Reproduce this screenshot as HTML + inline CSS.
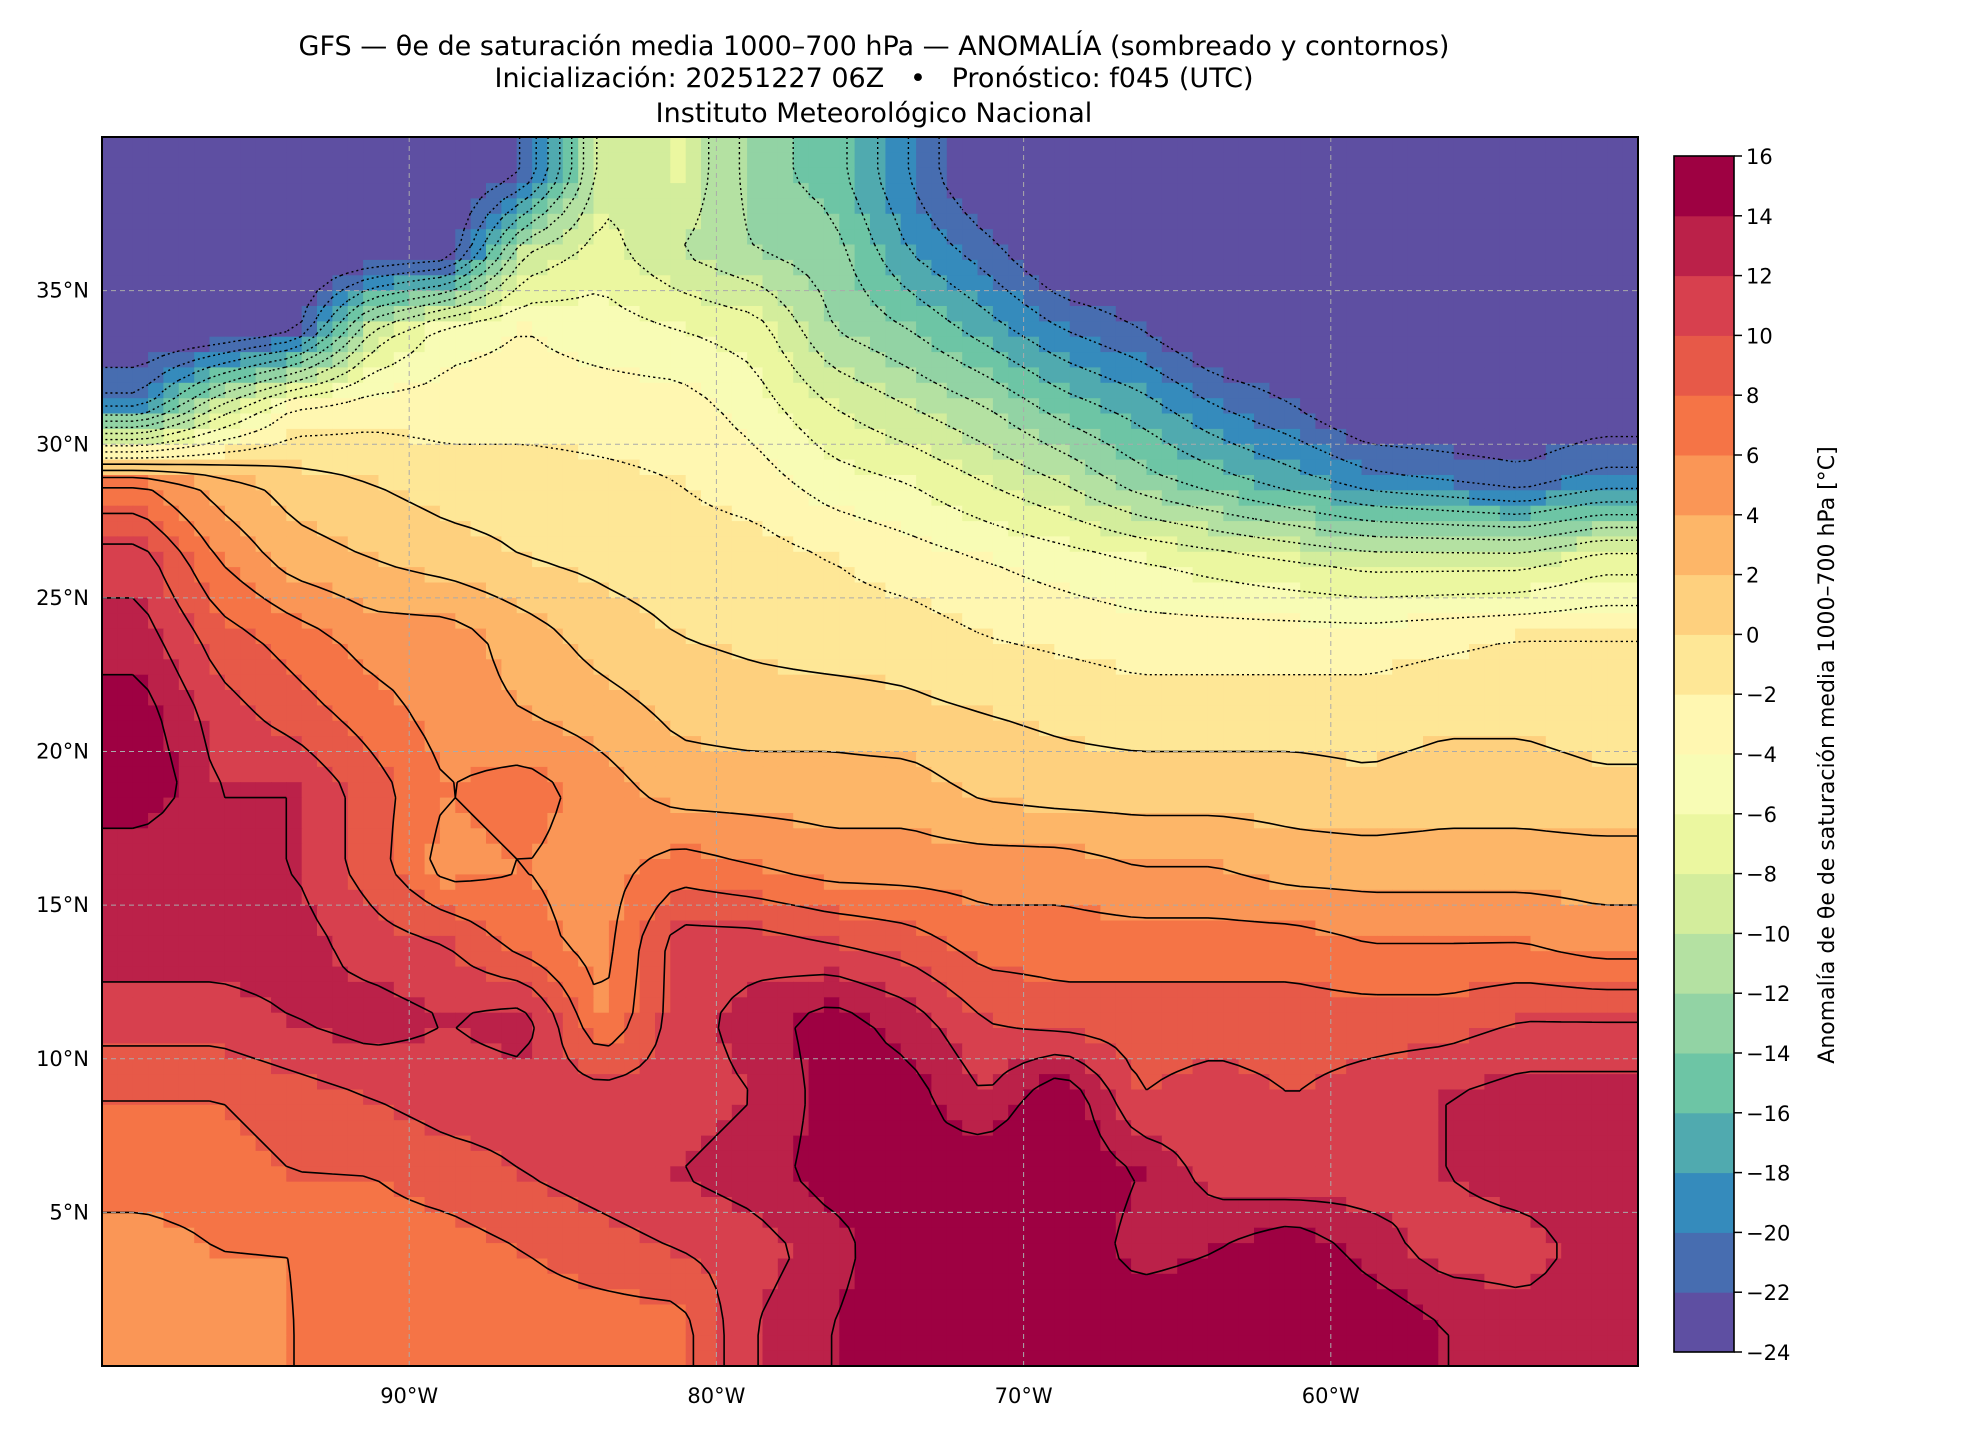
<!DOCTYPE html>
<html><head><meta charset="utf-8"><style>
body{margin:0;background:#fff;}
svg text{font-family:"DejaVu Sans","Liberation Sans",sans-serif;}
</style></head><body>
<svg id="fig" width="1980" height="1440" viewBox="0 0 1980 1440" xmlns="http://www.w3.org/2000/svg">
<rect width="1980" height="1440" fill="#fff"/>
<g font-size="27" text-anchor="middle" fill="#000">
<text x="874" y="55">GFS — θe de saturación media 1000–700 hPa — ANOMALÍA (sombreado y contornos)</text>
<text x="874" y="87" xml:space="preserve">Inicialización: 20251227 06Z   •   Pronóstico: f045 (UTC)</text>
<text x="874" y="122">Instituto Meteorológico Nacional</text>
</g>
<g id="field"></g>
<g id="contours"></g>
<g id="grid"></g>
<rect x="102" y="137" width="1536" height="1229" fill="none" stroke="#000" stroke-width="2"/>
<g id="axes"></g>
<g id="cbar"></g>
<text transform="translate(1834,755) rotate(-90)" text-anchor="middle" font-size="22">Anomalía de θe de saturación media 1000–700 hPa [°C]</text>
</svg>
<script>
const lonCenters=[-98.75,-96.25,-93.75,-91.25,-88.75,-86.25,-83.75,-81.25,-78.75,-76.25,-73.75,-71.25,-68.75,-66.25,-63.75,-61.25,-58.75,-56.25,-53.75,-51.25];
const latCenters=[38.75,36.25,33.75,31.25,28.75,26.25,23.75,21.25,18.75,16.25,13.75,11.25,8.75,6.25,3.75,1.25];
const row39=[-25,-25,-25,-25,-25,-22,-9,-8,-13,-15,-20,-25,-25,-25,-25,-25,-25,-25,-25,-25];
const row36=[-25,-25,-25,-25,-24,-10,-7,-10,-12,-13,-18,-21,-25,-25,-25,-25,-25,-25,-25,-25];
const row34=[-25,-25,-23,-10,-5,-4,-5,-6,-7,-12,-14,-17,-20,-22,-25,-25,-25,-25,-25,-25];
const row31=[-19,-10,-4,-3,-3,-3,-3,-3,-5,-8,-10,-12,-15,-17,-20,-22,-25,-25,-25,-24];
const row29=[6,3,1,0,-1,-1,-1.5,-2,-3,-5,-6,-8,-10,-13,-15,-17,-19,-20,-21,-19];
const row26=[11,6,3,2,1,0,-0.5,-1,-1,-2,-3,-4,-5,-6,-7,-8,-9,-9,-9,-7];
const row24=[13,9,7,5,5,3,1,0,-0.5,-1,-1,-2,-2.5,-3,-3,-3,-3,-2.5,-2,-2];
const row21=[15,11,9,7,5,4,3,1.5,1,1,0.5,0,-0.5,-1,-1,-1,-1,-0.5,-0.5,-1];
const row19=[16,12,12,9,6,7,5,3,3,3,3,1.5,1,1,1,1,0.5,1,1,0.5];
const row16=[12,12,12,9,5,6,5,7,6,5,5,5,5,4,4,3,3,3,3,3];
const row14=[13,13,13,11,10,7,5,11,11,10,9,7,7,7,7,7,6,6,6,5];
const row11=[11,11,12,13,12,13,6,11,13,15,13,10,9,9,9,9,9,9,10,10];
const row9=[8,8,9,10,11,11,11,11,12,15,15,12,16,10,11,10,11,12,13,13];
const row6=[7,7,8,8,9,10,11,12,13,15,14,16,16,14,11,10,11,12,13,13];
const row4=[5,6,6,7,7,8,9,10,11,13,16,16,16,13,14,16,13,11,11,13];
const row1=[5,5,6,7,7,7,7,7,12,14,16,16,16,16,16,16,16,14,13,13];
const fieldRows=[row39,row36,row34,row31,row29,row26,row24,row21,row19,row16,row14,row11,row9,row6,row4,row1];
const levels=[-24,-22,-20,-18,-16,-14,-12,-10,-8,-6,-4,-2,0,2,4,6,8,10,12,14,16];
const xTicks=[-90,-80,-70,-60];
const yTicks=[5,10,15,20,25,30,35];

const NS='http://www.w3.org/2000/svg';
const X=lon=>102+(lon+100)*1536/50;
const Y=lat=>137+(40-lat)*1229/40;
const spec=['#9e0142','#d53e4f','#f46d43','#fdae61','#fee08b','#ffffbf','#e6f598','#abdda4','#66c2a5','#3288bd','#5e4fa2'].reverse();
function hx(h){return [1,3,5].map(i=>parseInt(h.substr(i,2),16));}
function cmap(f){const p=f*10,i=Math.min(9,Math.floor(p)),t=p-i;const a=hx(spec[i]),b=hx(spec[i+1]);return 'rgb('+a.map((v,k)=>Math.round(v+(b[k]-v)*t)).join(',')+')';}
const bandColors=[];for(let i=0;i<20;i++)bandColors.push(cmap(i/19));
function band(v){let i=Math.floor((v-levels[0])/2);return Math.max(0,Math.min(19,i));}
function mk(tag,attrs,parent){const e=document.createElementNS(NS,tag);for(const k in attrs)e.setAttribute(k,attrs[k]);parent.appendChild(e);return e;}
function sample(lon,lat){
  const fx=(lon-lonCenters[0])/(lonCenters[1]-lonCenters[0]);
  const fy=(lat-latCenters[0])/(latCenters[1]-latCenters[0]);
  const cx=Math.max(0,Math.min(lonCenters.length-1.0001,fx)),cy=Math.max(0,Math.min(latCenters.length-1.0001,fy));
  const i=Math.floor(cx),j=Math.floor(cy),tx=cx-i,ty=cy-j;
  const r0=fieldRows[j],r1=fieldRows[j+1];
  return (r0[i]*(1-tx)+r0[i+1]*tx)*(1-ty)+(r1[i]*(1-tx)+r1[i+1]*tx)*ty;
}
const field=document.getElementById('field');
const step=0.5;
for(let lat=40;lat>0;lat-=step){for(let lon=-100;lon<-50;lon+=step){
  const v=sample(lon+step/2,lat-step/2);
  const x0=X(lon),x1=X(lon+step),y0=Y(lat),y1=Y(lat-step);
  const r=mk('rect',{x:x0.toFixed(1),y:y0.toFixed(1),width:(x1-x0+0.6).toFixed(1),height:(y1-y0+0.6).toFixed(1),fill:bandColors[band(v)]},field);
  
  
}}
const cont=document.getElementById('contours');
const cs=0.5, nx=Math.round(50/cs), ny=Math.round(40/cs);
const G=[];for(let j=0;j<=ny;j++){const r=[];for(let i=0;i<=nx;i++)r.push(sample(-100+i*cs,40-j*cs));G.push(r);}
levels.slice(1,-1).forEach(L=>{
  let d='';
  const P=(i,j)=>[X(-100+i*cs),Y(40-j*cs)];
  for(let j=0;j<ny;j++)for(let i=0;i<nx;i++){
    const a=G[j][i],b=G[j][i+1],c=G[j+1][i+1],e=G[j+1][i];
    const pts=[];
    const edge=(v1,v2,p1,p2)=>{if((v1<L)!==(v2<L)){const t=(L-v1)/(v2-v1);pts.push([p1[0]+(p2[0]-p1[0])*t,p1[1]+(p2[1]-p1[1])*t]);}};
    edge(a,b,P(i,j),P(i+1,j));edge(b,c,P(i+1,j),P(i+1,j+1));edge(c,e,P(i+1,j+1),P(i,j+1));edge(e,a,P(i,j+1),P(i,j));
    for(let k=0;k+1<pts.length;k+=2)d+='M'+pts[k][0].toFixed(1)+' '+pts[k][1].toFixed(1)+'L'+pts[k+1][0].toFixed(1)+' '+pts[k+1][1].toFixed(1);
  }
  if(d){const p=mk('path',{d:d,fill:'none',stroke:'#000','stroke-width':L<0?1.4:1.6,'stroke-dasharray':L<0?'2,3':'none'},cont);
    
    }
});
const grid=document.getElementById('grid'),axes=document.getElementById('axes');
xTicks.forEach(t=>{
  const l=mk('line',{x1:X(t),x2:X(t),y1:137,y2:1366,stroke:'#aaa','stroke-width':1,'stroke-dasharray':'5,4'},grid);
  
  
  const tx=mk('text',{x:X(t),y:1403,'font-size':21,'text-anchor':'middle'},axes);tx.textContent=(-t)+'°W';
  
  
});
yTicks.forEach(t=>{
  const l=mk('line',{x1:102,x2:1638,y1:Y(t),y2:Y(t),stroke:'#aaa','stroke-width':1,'stroke-dasharray':'5,4'},grid);
  
  
  const tx=mk('text',{x:89,y:Y(t)+7,'font-size':21,'text-anchor':'end'},axes);tx.textContent=t+'°N';
  
  
});
const cb=document.getElementById('cbar');
const cbTop=156,cbBot=1352,cbX=1674,cbW=60;
const CY=v=>cbBot-(v-levels[0])/(levels[levels.length-1]-levels[0])*(cbBot-cbTop);
for(let i=0;i<20;i++){
  const r=mk('rect',{x:cbX,y:CY(levels[i+1]),width:cbW,height:CY(levels[i])-CY(levels[i+1])+0.5,fill:bandColors[i]},cb);
  
  
}
const fr=mk('rect',{x:cbX,y:cbTop,width:cbW,height:cbBot-cbTop,fill:'none',stroke:'#000','stroke-width':1.6},cb);


levels.forEach(v=>{
  mk('line',{x1:cbX+cbW,x2:cbX+cbW+8,y1:CY(v),y2:CY(v),stroke:'#000','stroke-width':1.5},cb);
  const t=mk('text',{x:cbX+cbW+12,y:CY(v)+8,'font-size':21},cb);t.textContent=(v<0?'−'+(-v):v);
  
  
});
</script>
</body></html>
